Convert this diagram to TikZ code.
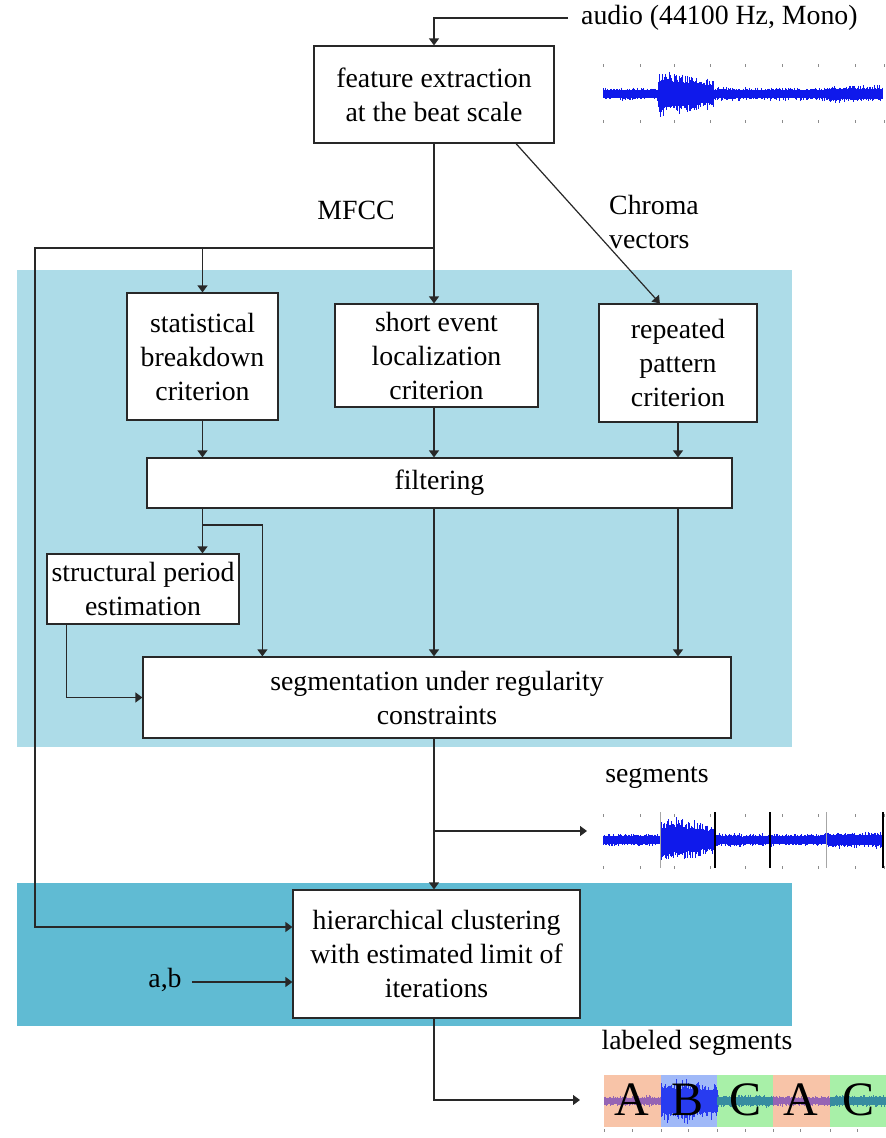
\documentclass[tikz,border=0pt]{standalone}
\usepackage{fontspec}
\setmainfont{Liberation Serif}
\usetikzlibrary{arrows.meta,calc}
\definecolor{bgA}{RGB}{173,220,232}
\definecolor{bgB}{RGB}{96,187,211}
\definecolor{ln}{RGB}{40,40,40}
\definecolor{wblue}{RGB}{15,25,235}
\definecolor{peach}{RGB}{248,196,168}
\definecolor{lblue}{RGB}{160,185,248}
\definecolor{lgreen}{RGB}{168,240,168}
\definecolor{wpurple}{RGB}{150,100,180}
\definecolor{wteal}{RGB}{55,140,160}
\definecolor{wdblue}{RGB}{40,60,240}
\newcommand\lblfont{\fontsize{27.8}{34}\selectfont}
\newcommand\wavepart[5]{%
  \pgfmathtruncatemacro\nn{(#2-#1)/0.6}%
  \foreach \k in {0,...,\nn}{%
    \pgfmathsetmacro\xx{#1+0.6*\k}%
    \pgfmathsetmacro\aa{#4*(0.5+0.5*rnd*rnd)}%
    \pgfmathsetmacro\bb{#4*(0.5+0.5*rnd*rnd)}%
    \draw[#5,line width=0.8pt] ({\xx},{#3-\aa}) -- ({\xx},{#3+\bb});
  }}
\tikzset{
  box/.style={draw=ln, line width=1.2pt, fill=white, inner sep=0pt, align=center, font=\lblfont},
  lbl/.style={inner sep=0pt, font=\lblfont},
  con/.style={draw=ln, line width=1.2pt, -{Triangle[width=10pt,length=7pt]}},
  tick/.style={draw=black!45, line width=0.6pt},
  letter/.style={inner sep=0pt, font=\fontsize{48}{48}\selectfont}
}
\begin{document}
\begin{tikzpicture}[x=1pt,y=-1pt]
\useasboundingbox (0,0) rectangle (886,1138);
\pgfmathsetseed{11}
% background bands
\fill[bgA] (17,270) rectangle (792,747);
\fill[bgB] (17,883) rectangle (792,1026);

% boxes
\node[box, minimum width=240pt, minimum height=97pt] (fe) at (434,94.5) {feature extraction\\at the beat scale};
\node[box, minimum width=151pt, minimum height=127pt] (stat) at (202.5,356.5) {statistical\\breakdown\\criterion};
\node[box, minimum width=203pt, minimum height=103pt] (short) at (436.5,355.5) {short event\\localization\\criterion};
\node[box, minimum width=158pt, minimum height=118pt] (rep) at (678,363) {repeated\\pattern\\criterion};
\node[box, minimum width=585pt, minimum height=50pt] (filt) at (439.5,483) {filtering};
\node[box, minimum width=192pt, minimum height=70pt] (struct) at (143,589) {structural period\\estimation};
\node[box, minimum width=588pt, minimum height=81pt] (seg) at (437,697.5) {segmentation under regularity\\constraints};
\node[box, minimum width=287pt, minimum height=128pt] (hier) at (436.5,954) {hierarchical clustering\\with estimated limit of\\iterations};

% labels
\node[lbl, anchor=west] (audio) at (581,18) {audio (44100 Hz, Mono)};
\node[lbl] (mfcc) at (356,210) {MFCC};
\node[lbl, align=left] (chroma) at (654,222) {Chroma\\vectors};
\node[lbl] (segl) at (657,778) {segments};
\node[lbl] (labl) at (697,1043) {labeled segments};
\node[lbl] (ab) at (165,980) {a,b};

% coordinates
\coordinate (aud) at (568,18);
\coordinate (J) at (434,248);
\coordinate (L) at (35,248);
\coordinate (B1) at (202.5,525);
\coordinate (S) at (434,831);
\coordinate (segend) at (587,831);
\coordinate (labend) at (580,1100);
\coordinate (hin1) at ([yshift=27pt]hier.west);
\coordinate (hin2) at ([yshift=-28pt]hier.west);

% connectors
\draw[con] (aud) -| (fe.north);
\draw[con] (fe.south) -- (fe.south |- short.north);
\draw[con] (J) -- (L) |- (hin1);
\draw[con] (stat.north |- J) -- (stat.north);
\draw[con] ($(fe.south west)!0.84!(fe.south east)$) -- ($(rep.north west)!0.386!(rep.north east)$);
\draw[con] (stat.south) -- (stat.south |- filt.north);
\draw[con] (fe.south |- short.south) -- (fe.south |- filt.north);
\draw[con] (rep.south) -- (rep.south |- filt.north);
\draw[con] (stat.south |- filt.south) -- (stat.south |- struct.north);
\draw[con] (B1) -| ($(seg.north west)+(120,0)$);
\draw[con, line width=2.2pt] (fe.south |- filt.south) -- (fe.south |- seg.north);
\draw[con] (rep.south |- filt.south) -- (rep.south |- seg.north);
\draw[con] ($(struct.south west)+(20,0)$) |- (seg.west);
\draw[con] (fe.south |- seg.south) -- (fe.south |- hier.north);
\draw[con] (S) -- (segend);
\draw[con] ([xshift=10pt]ab.east |- hin2) -- (hin2);
\draw[con] (fe.south |- hier.south) |- (labend);

% waveform 1 (audio)
\foreach \t in {603,640,674,710,745,782,818,855,884}{
  \draw[tick] (\t,64) -- (\t,67);
  \draw[tick] (\t,120) -- (\t,123);
}
\wavepart{603}{658}{94}{7}{wblue}
\wavepart{658}{683}{94}{24}{wblue}
\wavepart{683}{700}{94}{21}{wblue}
\wavepart{700}{714}{94}{17}{wblue}
\wavepart{714}{740}{94}{8}{wblue}
\wavepart{740}{827}{94}{7}{wblue}
\wavepart{827}{883}{94}{9}{wblue}

% waveform 2 (segments)
\foreach \t in {603,640,674,710,745,782,818,855,884}{
  \draw[tick] (\t,814) -- (\t,817);
  \draw[tick] (\t,866) -- (\t,869);
}
\wavepart{603}{660}{840}{7}{wblue}
\wavepart{660}{685}{840}{24}{wblue}
\wavepart{685}{700}{840}{21}{wblue}
\wavepart{700}{715}{840}{17}{wblue}
\wavepart{715}{740}{840}{8}{wblue}
\wavepart{740}{826}{840}{7}{wblue}
\wavepart{826}{882}{840}{9}{wblue}
\draw[black!35, line width=0.8pt] (660,812) -- (660,868);
\draw[black!35, line width=0.8pt] (826,812) -- (826,868);
\foreach \t in {715,770,883}{
  \draw[black, line width=1.2pt] (\t,812) -- (\t,868);
}

% labeled segments
\fill[peach] (604,1075) rectangle (661,1127);
\fill[lblue] (661,1075) rectangle (717,1127);
\fill[lgreen] (717,1075) rectangle (773,1127);
\fill[peach] (773,1075) rectangle (830,1127);
\fill[lgreen] (830,1075) rectangle (886,1127);
\wavepart{604}{661}{1101}{6}{wpurple}
\wavepart{661}{690}{1101}{24}{wdblue}
\wavepart{690}{717}{1101}{21}{wdblue}
\wavepart{717}{773}{1101}{7}{wteal}
\wavepart{773}{830}{1101}{6}{wpurple}
\wavepart{830}{886}{1101}{7}{wteal}
\foreach \t in {604,632,661,688,717,745,773,800,830,857}{
  \draw[tick] (\t,1129) -- (\t,1132);
}
\node[letter] (lA1) at (632,1100) {A};
\node[letter] (lB) at (688,1100) {B};
\node[letter] (lC1) at (745,1100) {C};
\node[letter] (lA2) at (801,1100) {A};
\node[letter] (lC2) at (858,1100) {C};
\end{tikzpicture}
\end{document}
